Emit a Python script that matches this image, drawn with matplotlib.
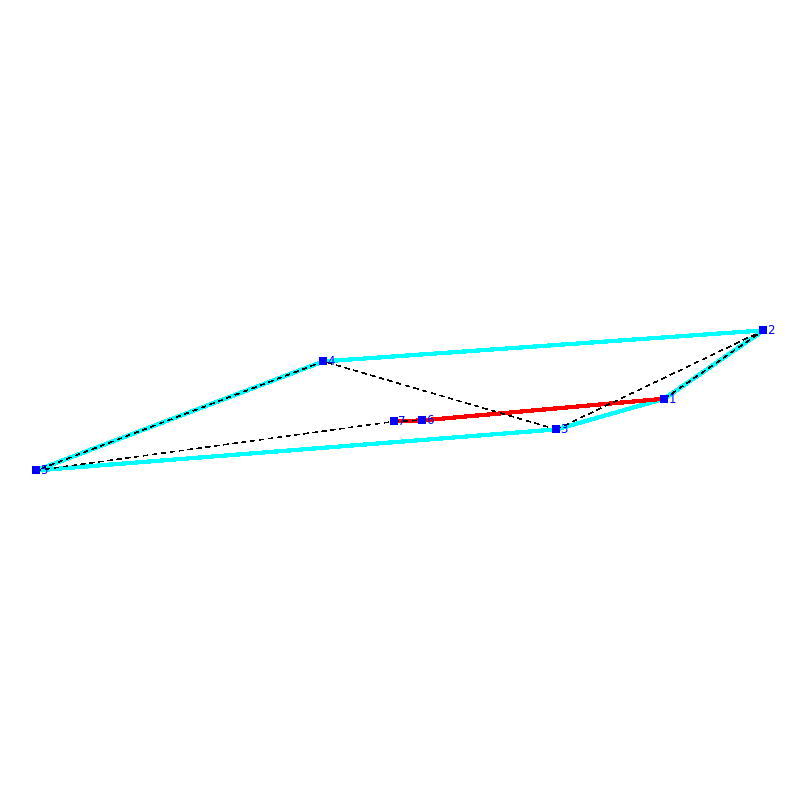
import numpy as np
import matplotlib
matplotlib.use("Agg")
import matplotlib.pyplot as plt

# node positions
node_ids = [1, 2, 3, 4, 5, 6, 7]
node_x = [664.4, 763.4, 556.4, 323.4, 36.4, 422.4, 394.4]
node_y = [398.7, 330.4, 429.4, 361.4, 470.4, 420.4, 421.4]

# edges as node numbers
hull_edges = [(1, 2), (2, 4), (4, 5), (5, 3), (3, 1)]
red_edges = [(1, 6), (6, 7)]
dashed_edges = [(1, 2), (2, 3), (3, 4), (4, 5), (5, 7), (7, 6)]


def draw_edges(ax, edges, **kw):
    for a, b in edges:
        ax.plot([node_x[a - 1], node_x[b - 1]], [node_y[a - 1], node_y[b - 1]], **kw)


fig = plt.figure(figsize=(8, 8), dpi=100)
ax = fig.add_axes([0, 0, 1, 1])
ax.set_xlim(0, 800)
ax.set_ylim(800, 0)
ax.axis("off")

draw_edges(ax, hull_edges, color="#00ffff", lw=2.3, antialiased=False, zorder=1)
draw_edges(ax, red_edges, color="#ff0000", lw=2.3, antialiased=False, zorder=2)
draw_edges(ax, dashed_edges, color="black", lw=0.3, dashes=(10, 10), antialiased=False, zorder=3)

ax.plot(node_x, node_y, "s", color="#0000ff", ms=5.8, mew=0, antialiased=False, zorder=4)
for i, x, y in zip(node_ids, node_x, node_y):
    ax.text(x + 4, y + 0.5, str(i), color="#0000ff", fontsize=8.5, ha="left", va="center", zorder=5)

plt.savefig("out.png", dpi=100)
